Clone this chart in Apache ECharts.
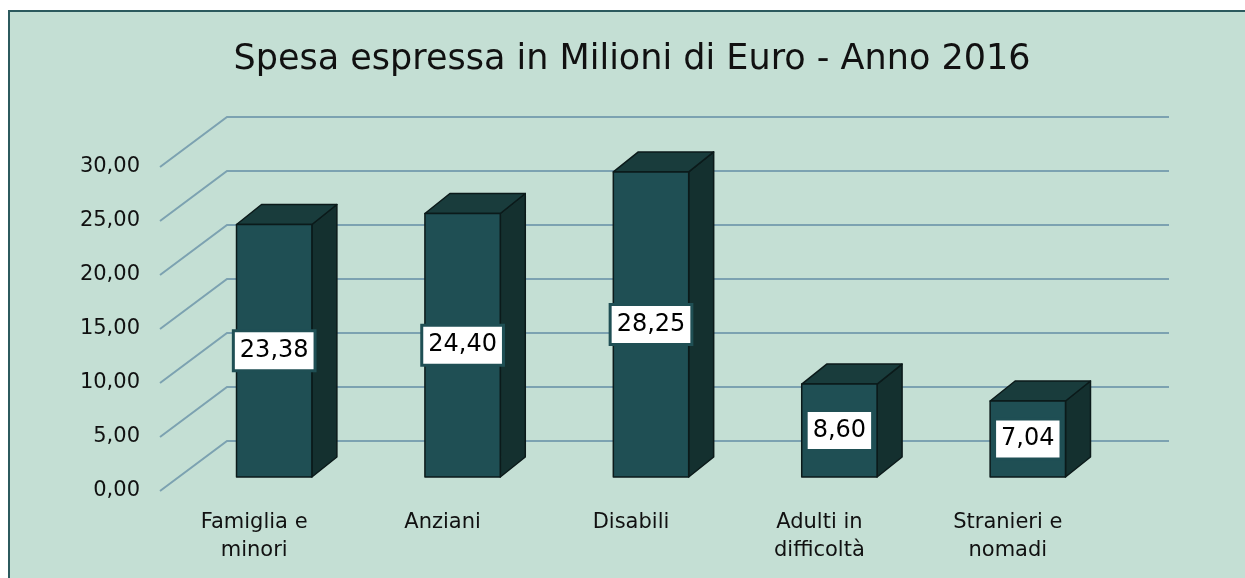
<!DOCTYPE html>
<html>
<head>
<meta charset="utf-8">
<title>Spesa espressa in Milioni di Euro - Anno 2016</title>
<script src="https://cdn.jsdelivr.net/npm/echarts@6/dist/echarts.min.js"></script>
<style>
  html, body { margin: 0; padding: 0; background: #fff; }
  #chart { width: 1245px; height: 578px; }
</style>
</head>
<body>
<div id="chart"></div>
<script>
// dati
var categories = ['Famiglia e\nminori', 'Anziani', 'Disabili', 'Adulti in\ndifficoltà', 'Stranieri e\nnomadi'];
var spesa = [23.38, 24.40, 28.25, 8.60, 7.04];
var yTicks = [0, 5, 10, 15, 20, 25, 30];

var FONT = '"DejaVu Sans", Lato, sans-serif';
// profondita della "scatola" 3D (pixel)
var WALL_DX = 67, WALL_DY = -50;
var BAR_DX = 25, BAR_DY = -20;
var BAR_OFF_X = 20, BAR_OFF_Y = -14;

function fmt(v) {
  return v.toFixed(2).replace('.', ',');
}

var chart = echarts.init(document.getElementById('chart'));

// linee della griglia: dal piano frontale alla parete di fondo
function renderGridLine(params, api) {
  var cs = params.coordSys;
  var p = api.coord([0, api.value(1)]);
  var x0 = cs.x, y = p[1];
  return {
    type: 'polyline',
    shape: {
      points: [[x0, y], [x0 + WALL_DX, y + WALL_DY], [x0 + cs.width + WALL_DX, y + WALL_DY]]
    },
    style: { stroke: '#7ca2b1', lineWidth: 2, fill: null }
  };
}

// barra a parallelepipedo
function renderBar(params, api) {
  var idx = api.value(0), val = api.value(1);
  var base = api.coord([idx, 0]);
  var top = api.coord([idx, val]);
  var band = api.size([1, 0])[0];
  var w = band * 0.4;
  var x0 = base[0] - w / 2 + BAR_OFF_X, x1 = x0 + w;
  var yb = base[1] + BAR_OFF_Y, yt = top[1] + BAR_OFF_Y;
  var edge = { stroke: '#0b1a1a', lineWidth: 1.5, lineJoin: 'round' };
  return {
    type: 'group',
    children: [
      {
        type: 'polygon',
        shape: { points: [[x1, yt], [x1 + BAR_DX, yt + BAR_DY], [x1 + BAR_DX, yb + BAR_DY], [x1, yb]] },
        style: Object.assign({ fill: '#14302f' }, edge)
      },
      {
        type: 'polygon',
        shape: { points: [[x0, yt], [x0 + BAR_DX, yt + BAR_DY], [x1 + BAR_DX, yt + BAR_DY], [x1, yt]] },
        style: Object.assign({ fill: '#193c3c' }, edge)
      },
      {
        type: 'rect',
        shape: { x: x0, y: yt, width: w, height: yb - yt },
        style: Object.assign({ fill: '#1f4f54' }, edge)
      },
      {
        type: 'text',
        x: (x0 + x1) / 2,
        y: (yt + yb) / 2,
        style: {
          text: fmt(val),
          font: '24px ' + FONT,
          fill: '#000',
          align: 'center',
          verticalAlign: 'middle',
          backgroundColor: '#fff',
          borderColor: '#1f4f54',
          borderWidth: 3,
          padding: [7, 5, 6, 5]
        }
      }
    ]
  };
}

var option = {
  backgroundColor: '#fff',
  animation: false,
  graphic: [
    {
      type: 'rect',
      z: -10,
      shape: { x: 9, y: 11, width: 1400, height: 700 },
      style: { fill: '#c4dfd4' }
    },
    {
      type: 'polyline',
      z: -9,
      shape: { points: [[9, 700], [9, 11], [1400, 11]] },
      style: { stroke: '#2c5a5e', lineWidth: 2, fill: null }
    },
    {
      type: 'text',
      z: 10,
      x: 632,
      y: 60,
      style: {
        text: 'Spesa espressa in Milioni di Euro - Anno 2016',
        font: '35px ' + FONT,
        fill: '#111',
        align: 'center',
        verticalAlign: 'middle'
      }
    }
  ],
  grid: { left: 160, top: 167, width: 942, height: 324 },
  xAxis: {
    type: 'category',
    data: categories,
    axisLine: { show: false },
    axisTick: { show: false },
    axisLabel: { fontFamily: FONT, fontSize: 21, lineHeight: 28, color: '#111', margin: 18, interval: 0 }
  },
  yAxis: {
    type: 'value',
    min: 0,
    max: 30,
    interval: 5,
    axisLine: { show: false },
    axisTick: { show: false },
    splitLine: { show: false },
    axisLabel: { fontFamily: FONT, fontSize: 21, color: '#111', margin: 20, formatter: fmt }
  },
  series: [
    {
      type: 'custom',
      z: 1,
      silent: true,
      renderItem: renderGridLine,
      data: yTicks.map(function (v) { return [0, v]; })
    },
    {
      type: 'custom',
      z: 3,
      renderItem: renderBar,
      data: spesa.map(function (v, i) { return [i, v]; })
    }
  ]
};

chart.setOption(option);
window.addEventListener('resize', function () { chart.resize(); });
</script>
</body>
</html>
